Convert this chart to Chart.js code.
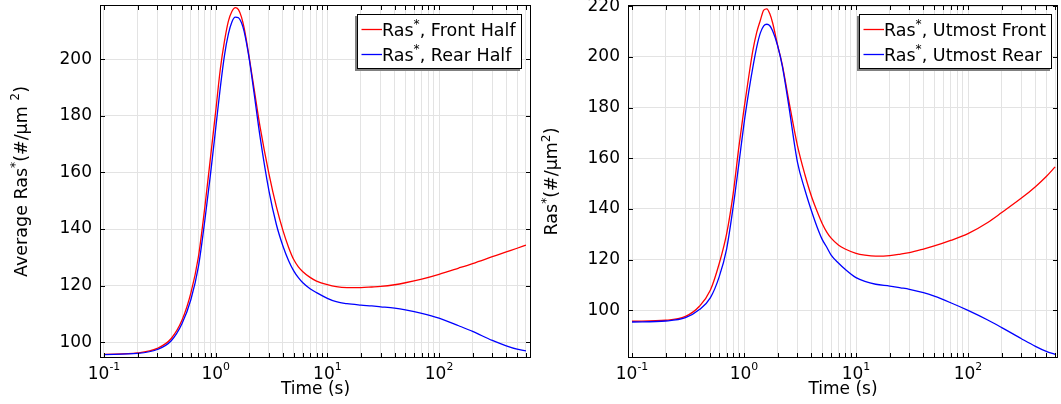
<!DOCTYPE html>
<html><head><meta charset="utf-8">
<script src="https://cdn.jsdelivr.net/npm/chart.js@4.4.1/dist/chart.umd.min.js"></script>
<style>
html,body{margin:0;padding:0;background:#fff;overflow:hidden;}
#wrap{position:relative;width:1061px;height:404px;background:#fff;}
.pane{position:absolute;top:0;height:404px;}
</style></head><body>
<div id="wrap">
<div class="pane" style="left:0;width:540px"><canvas id="c1" width="540" height="404"></canvas></div>
<div class="pane" style="left:540px;width:521px"><canvas id="c2" width="521" height="404"></canvas></div>
</div>
<script>
// ---- data ----
const times = [0.1,0.2,0.3,0.4,0.5,0.6,0.7,0.8,0.9,1.0,1.1,1.2,1.3,1.4,1.5,1.6,1.7,1.8,2.0,2.2,2.5,3.0,3.5,4.0,4.5,5.0,5.5,6.0,7.0,8.0,10,12,15,20,25,30,40,50,70,100,150,200,300,400,500,600];
const frontHalf = [95.7,96.2,97.8,101.3,107.8,117.4,130.1,147.8,165.5,181.5,196.5,206.5,213.5,217.0,218.3,217.6,215.0,211.0,200.5,190.0,176.0,159.5,147.8,139.5,133.5,129.2,126.6,125.0,122.9,121.6,120.3,119.6,119.3,119.3,119.5,119.7,120.3,121.0,122.3,124.0,126.2,127.8,130.2,131.9,133.2,134.3];
const rearHalf = [95.6,96.0,97.4,100.5,106.6,115.1,126.6,143.1,159.6,175.5,190.0,201.5,209.0,213.3,214.9,214.7,213.0,209.8,200.0,188.5,172.5,153.5,141.5,134.0,128.8,125.2,122.8,121.1,118.9,117.5,115.5,114.3,113.6,113.1,112.8,112.5,112.0,111.4,110.2,108.5,105.8,103.8,100.6,98.7,97.5,96.9];
const utmostFront = [95.7,96.1,97.6,101.6,107.9,118.4,130.3,146.0,164.5,179.5,192.0,202.6,209.8,214.5,218.5,219.0,217.0,213.5,204.5,196.8,183.3,165.0,153.5,145.0,139.0,134.2,130.8,128.5,125.7,124.2,122.5,121.8,121.4,121.6,122.2,122.8,124.2,125.4,127.6,130.3,134.7,138.6,144.3,148.8,152.8,156.6];
const utmostRear = [95.4,95.8,97.1,100.3,104.9,113.2,124.3,140.8,157.9,173.7,186.0,196.0,204.0,209.5,212.3,212.9,212.3,210.3,204.3,196.3,181.3,158.5,147.5,139.3,132.8,127.9,124.8,121.8,118.6,116.2,112.9,111.4,110.3,109.6,108.9,108.3,107.0,105.6,103.0,100.0,96.2,93.2,88.8,85.8,83.8,82.6];

const xDecades = [0.1, 1, 10, 100];
const xTickLabels = ['10^{-1}', '10^{0}', '10^{1}', '10^{2}'];
const yTicksLeft = [100, 120, 140, 160, 180, 200];
const yTicksRight = [100, 120, 140, 160, 180, 200, 220];
const xTitle = 'Time (s)';
const yTitleLeft = 'Average Ras^{*}(#/\u00B5m ^{2})';
const yTitleRight = 'Ras^{*}(#/\u00B5m^{2})';
const legendLeft = ['Ras^{*}, Front Half', 'Ras^{*}, Rear Half'];
const legendRight = ['Ras^{*}, Utmost Front', 'Ras^{*}, Utmost Rear'];

// ---- helpers ----
const FONT = '"DejaVu Sans", "Noto Sans", sans-serif';
const xTickValues = [];
xDecades.forEach(d => { for (let m = 1; m <= 9; m++) xTickValues.push(+(m * d).toPrecision(6)); });

function parseRich(s) {
  const parts = []; const re = /\^\{([^}]*)\}/g; let last = 0, m;
  while ((m = re.exec(s))) {
    if (m.index > last) parts.push({t: s.slice(last, m.index), sup: false});
    parts.push({t: m[1], sup: true}); last = re.lastIndex;
  }
  if (last < s.length) parts.push({t: s.slice(last), sup: false});
  return parts;
}
function drawRich(ctx, text, x, y, size, align, supScale, rise, measureOnly) {
  supScale = supScale || 0.7; rise = rise || 0.42;
  const sup = size * supScale;
  const parts = parseRich(text);
  let w = 0;
  parts.forEach(p => { ctx.font = (p.sup ? sup : size) + 'px ' + FONT; p.w = ctx.measureText(p.t).width; w += p.w; });
  if (measureOnly) return w;
  let cx = align === 'center' ? x - w / 2 : x;
  ctx.textAlign = 'left'; ctx.textBaseline = 'alphabetic'; ctx.fillStyle = '#000';
  parts.forEach(p => {
    ctx.font = (p.sup ? sup : size) + 'px ' + FONT;
    ctx.fillText(p.t, cx, p.sup ? y - size * rise : y);
    cx += p.w;
  });
  return w;
}

const decor = {
  id: 'decor',
  afterDraw(chart, args, o) {
    const ctx = chart.ctx, a = chart.chartArea;
    const xs = chart.scales.x, ys = chart.scales.y;
    ctx.save();
    ctx.strokeStyle = '#000'; ctx.lineWidth = 1;
    ctx.beginPath();
    xs.ticks.forEach(t => {
      if (t.value <= xs.min || t.value >= xs.max) return;
      const px = Math.round(xs.getPixelForValue(t.value)) + 0.5;
      ctx.moveTo(px, a.bottom); ctx.lineTo(px, a.bottom - 5);
      ctx.moveTo(px, a.top); ctx.lineTo(px, a.top + 5);
    });
    ys.ticks.forEach(t => {
      const py = Math.round(ys.getPixelForValue(t.value)) + 0.5;
      ctx.moveTo(a.left, py); ctx.lineTo(a.left + 5, py);
      ctx.moveTo(a.right, py); ctx.lineTo(a.right - 5, py);
    });
    ctx.stroke();
    ctx.strokeRect(a.left + 0.5, a.top + 0.5, a.right - a.left - 1, a.bottom - a.top - 1);

    // x tick labels (decades) with superscript exponents
    xDecades.forEach((d, i) => {
      const px = xs.getPixelForValue(d);
      drawRich(ctx, xTickLabels[i], px, a.bottom + 21, 17, 'center', 0.64, 0.52);
    });

    // legend
    const ds = chart.data.datasets;
    const size = 17.5;
    let maxW = 0;
    ds.forEach(d => { maxW = Math.max(maxW, drawRich(ctx, d.label, 0, 0, size, 'left', 0.7, 0.42, true)); });
    const boxW = Math.round(4.5 + 20.5 + maxW + 6), boxH = 55;
    const bx = Math.round(a.right - o.legendInset - boxW), by = Math.round(a.top + 8.5);
    ctx.fillStyle = '#808080'; ctx.fillRect(bx - 2, by + 2, boxW, boxH);
    ctx.fillStyle = '#fff'; ctx.fillRect(bx, by, boxW, boxH);
    ctx.strokeStyle = '#000'; ctx.lineWidth = 1; ctx.strokeRect(bx + 0.5, by + 0.5, boxW - 1, boxH - 1);
    ds.forEach((d, i) => {
      const cy = by + 15 + i * 25;
      ctx.strokeStyle = d.borderColor; ctx.lineWidth = 1.3;
      ctx.beginPath(); ctx.moveTo(bx + 4.5, cy + 0.5); ctx.lineTo(bx + 25, cy + 0.5); ctx.stroke();
      drawRich(ctx, d.label, bx + 25, cy + 6.5, size, 'left');
    });

    // y title
    ctx.save();
    ctx.translate(o.yTitleX, (a.top + a.bottom) / 2);
    ctx.rotate(-Math.PI / 2);
    drawRich(ctx, o.yTitle, 0, 0, 17.5, 'center');
    ctx.restore();
    ctx.restore();
  }
};

function makeChart(id, s1, s2, labels, yTicks, yMin, yMax, xMax, yAxisW, padRight, legendInset, yTitle, yTitleX) {
  const toPts = arr => times.map((t, i) => ({x: t, y: arr[i]}));
  return new Chart(document.getElementById(id), {
    type: 'line',
    data: {
      datasets: [
        {label: labels[0], data: toPts(s1), borderColor: '#ff0000', borderWidth: 1.3, pointRadius: 0, cubicInterpolationMode: 'monotone', order: 1},
        {label: labels[1], data: toPts(s2), borderColor: '#0000ff', borderWidth: 1.3, pointRadius: 0, cubicInterpolationMode: 'monotone', order: 0}
      ]
    },
    options: {
      responsive: false, animation: false, devicePixelRatio: 1,
      layout: {padding: {top: 5, right: padRight, left: 0, bottom: 0}},
      plugins: {legend: {display: false}, tooltip: {enabled: false},
        decor: {legendInset, yTitle, yTitleX}},
      scales: {
        x: {
          type: 'logarithmic', min: 0.0921, max: xMax,
          grid: {color: '#e3e3e3', lineWidth: 1, drawTicks: false},
          border: {display: false},
          afterBuildTicks: s => { s.ticks = xTickValues.filter(v => v >= s.min && v <= s.max).map(v => ({value: v})); },
          ticks: {display: false, autoSkip: false},
          title: {display: true, text: xTitle, color: '#000', font: {family: FONT, size: 17}, padding: {top: 0, bottom: 4}},
          afterFit: s => { s.height = 46; s.paddingLeft = 0; s.paddingRight = 0; }
        },
        y: {
          type: 'linear', min: yMin, max: yMax,
          grid: {color: '#e3e3e3', lineWidth: 1, drawTicks: false},
          border: {display: false},
          afterBuildTicks: s => { s.ticks = yTicks.map(v => ({value: v})); },
          ticks: {padding: 8, color: '#000', font: {family: FONT, size: 17}},
          afterFit: s => { s.width = yAxisW; s.paddingTop = 0; s.paddingBottom = 0; }
        }
      }
    },
    plugins: [decor]
  });
}

makeChart('c1', frontHalf, rearHalf, legendLeft, yTicksLeft, 94.4, 219.2, 666, 100, 9, 9, yTitleLeft, 26.5);
makeChart('c2', utmostFront, utmostRear, legendRight, yTicksRight, 81.2, 220.5, 636, 88, 3, 6, yTitleRight, 17.3);
</script>
</body></html>
